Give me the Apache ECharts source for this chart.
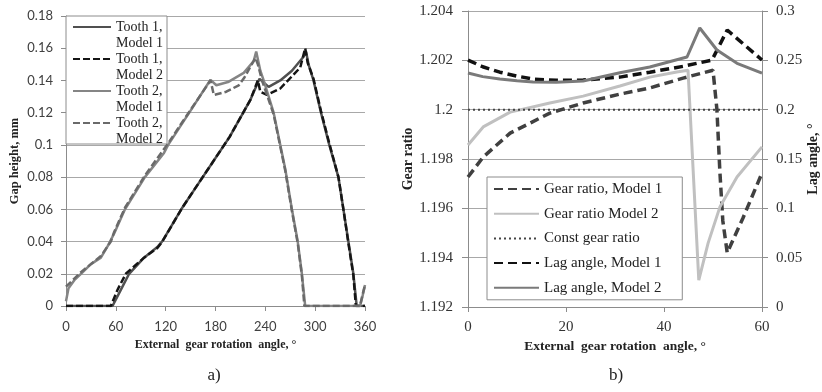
<!DOCTYPE html>
<html><head><meta charset="utf-8">
<script src="https://cdn.jsdelivr.net/npm/echarts@6/dist/echarts.min.js"></script>
<style>html,body{margin:0;padding:0;background:#fff}#c{width:822px;height:392px}</style>
</head><body><div id="c"></div>
<script>
// ---- Chart a) : gap height vs external gear rotation angle ----
const t1m1_x = [0, 56, 66, 76, 94, 110, 114, 117, 140, 162, 175, 197, 222, 233, 244, 258, 272, 286, 289, 292, 298, 307, 317, 328, 334, 340, 346, 350, 360];
const t1m1_y = [0, 0, 0.010, 0.020, 0.030, 0.0366, 0.039, 0.041, 0.061, 0.078, 0.088, 0.105, 0.128, 0.141, 0.136, 0.140, 0.146, 0.1547, 0.158, 0.150, 0.140, 0.120, 0.100, 0.080, 0.060, 0.040, 0.020, 0, 0];
const t1m2_x = [0, 54, 62, 72, 94, 110, 116, 140, 162, 175, 197, 222, 231, 234, 242, 258, 282, 288, 291, 298, 307, 317, 328, 334, 340, 346, 349, 360];
const t1m2_y = [0, 0, 0.010, 0.020, 0.030, 0.036, 0.040, 0.061, 0.078, 0.088, 0.105, 0.128, 0.140, 0.133, 0.131, 0.135, 0.148, 0.160, 0.151, 0.141, 0.121, 0.101, 0.080, 0.060, 0.039, 0.019, 0, 0];
const t2m1_x = [0, 3, 10, 18, 30, 42, 50, 53, 58, 71, 95, 118, 123, 149, 174, 181, 195, 214, 226, 229, 234, 238, 250, 258, 264, 272, 279, 284, 288, 354, 357, 360];
const t2m1_y = [0.003, 0.011, 0.016, 0.020, 0.026, 0.030, 0.037, 0.040, 0.045, 0.060, 0.080, 0.095, 0.100, 0.1205, 0.1404, 0.137, 0.139, 0.1447, 0.152, 0.158, 0.146, 0.140, 0.120, 0.100, 0.085, 0.060, 0.040, 0.020, 0, 0, 0.006, 0.013];
const t2m2_x = [0, 10, 18, 30, 42, 50, 54, 58, 71, 95, 123, 149, 174, 178, 193, 208, 215, 228, 231, 236, 250, 258, 264, 272, 279, 284, 287, 354, 357, 360];
const t2m2_y = [0.012, 0.017, 0.021, 0.026, 0.031, 0.037, 0.040, 0.046, 0.061, 0.081, 0.101, 0.121, 0.140, 0.131, 0.133, 0.137, 0.142, 0.154, 0.150, 0.140, 0.119, 0.099, 0.084, 0.059, 0.039, 0.019, 0, 0, 0.007, 0.013];
const namesA = ['Tooth 1, Model 1', 'Tooth 1, Model 2', 'Tooth 2, Model 1', 'Tooth 2, Model 2'];

// ---- Chart b) : gear ratio and lag angle ----
const gr1_x = [0, 3.1, 8.6, 16.7, 23.5, 31, 37.1, 43.9, 50, 50.8, 51.4, 52.0, 52.9, 56.1, 60];
const gr1_y = [1.19727, 1.19808, 1.19905, 1.19986, 1.20027, 1.20063, 1.20088, 1.20128, 1.2016, 1.2000, 1.1975, 1.1955, 1.1942, 1.1956, 1.19743];
const gr2_x = [0, 3.1, 8.6, 16.7, 23.5, 31, 37.1, 42.6, 44.9, 47.1, 49, 51.4, 54.9, 60];
const gr2_y = [1.19857, 1.1993, 1.1999, 1.20027, 1.20055, 1.20096, 1.20132, 1.20153, 1.2016, 1.19309, 1.19459, 1.19605, 1.19727, 1.19849];
const grc_x = [0, 60];
const grc_y = [1.2, 1.2];
const lag1_x = [0, 3, 6.5, 10, 13.3, 18, 23.5, 31, 37.1, 44, 49.8, 52.9, 60];
const lag1_y = [0.2503, 0.2435, 0.238, 0.234, 0.231, 0.2297, 0.230, 0.233, 0.238, 0.244, 0.2503, 0.2807, 0.2503];
const lag2_x = [0, 3, 6.5, 10, 13.3, 18, 23.5, 31, 37.1, 44.7, 47.3, 50.8, 54.9, 60];
const lag2_y = [0.2372, 0.2335, 0.231, 0.2293, 0.228, 0.2278, 0.229, 0.2375, 0.2432, 0.2534, 0.2828, 0.2605, 0.247, 0.237];
const namesB = ['Gear ratio, Model 1', 'Gear ratio Model 2', 'Const gear ratio', 'Lag angle, Model 1', 'Lag angle, Model 2'];

const xTitle = 'External  gear rotation  angle, °';

const zip = (xs, ys) => xs.map((x, i) => [x, ys[i]]);
const serifF = '"Liberation Serif", "Times New Roman", serif';
const sansF = 'Lato, "Liberation Sans", sans-serif';
const axisCol = '#8c8c8c';
const gridCol = '#a8a8a8';

function line(name, xi, yi, data, color, width, type) {
  return { name, type: 'line', xAxisIndex: xi, yAxisIndex: yi, data, symbol: 'none',
    lineStyle: { color, width, type }, itemStyle: { color }, emphasis: { disabled: true } };
}

const chart = echarts.init(document.getElementById('c'));
chart.setOption({
  animation: false,
  backgroundColor: '#fff',
  grid: [
    { left: 66, top: 16, width: 299, height: 290 },
    { left: 468, top: 11, width: 294, height: 296 }
  ],
  xAxis: [
    { gridIndex: 0, type: 'value', min: 0, max: 360, interval: 60,
      axisLine: { show: true, onZero: false, lineStyle: { color: axisCol } },
      axisTick: { show: true, length: 5, lineStyle: { color: axisCol } },
      splitLine: { show: false },
      axisLabel: { color: '#404040', fontFamily: sansF, fontSize: 13, margin: 14 },
      name: xTitle, nameLocation: 'middle', nameGap: 33,
      nameTextStyle: { fontFamily: serifF, fontWeight: 'bold', fontSize: 12, color: '#222' } },
    { gridIndex: 1, type: 'value', min: 0, max: 60, interval: 20,
      axisLine: { show: true, onZero: false, lineStyle: { color: axisCol } },
      axisTick: { show: true, length: 5, lineStyle: { color: axisCol } },
      splitLine: { show: false },
      axisLabel: { color: '#333', fontFamily: serifF, fontSize: 15, margin: 13 },
      name: xTitle, nameLocation: 'middle', nameGap: 30,
      nameTextStyle: { fontFamily: serifF, fontWeight: 'bold', fontSize: 13.5, color: '#222' } }
  ],
  yAxis: [
    { gridIndex: 0, type: 'value', min: 0, max: 0.18, interval: 0.02,
      axisLine: { show: true, lineStyle: { color: axisCol } },
      axisTick: { show: true, length: 5, lineStyle: { color: axisCol } },
      splitLine: { show: true, lineStyle: { color: gridCol, width: 1 } },
      axisLabel: { color: '#404040', fontFamily: sansF, fontSize: 13, margin: 13 },
      name: 'Gap height, mm', nameLocation: 'middle', nameGap: 45,
      nameTextStyle: { fontFamily: serifF, fontWeight: 'bold', fontSize: 12.5, color: '#222' } },
    { gridIndex: 1, type: 'value', min: 1.192, max: 1.204, interval: 0.002, position: 'left',
      axisLine: { show: true, lineStyle: { color: axisCol } },
      axisTick: { show: true, length: 6, lineStyle: { color: axisCol } },
      splitLine: { show: true, lineStyle: { color: gridCol, width: 1 } },
      axisLabel: { color: '#333', fontFamily: serifF, fontSize: 15, margin: 15 },
      name: 'Gear ratio', nameLocation: 'middle', nameGap: 52,
      nameTextStyle: { fontFamily: serifF, fontWeight: 'bold', fontSize: 14, color: '#222' } },
    { gridIndex: 1, type: 'value', min: 0, max: 0.3, interval: 0.05, position: 'right',
      axisLine: { show: true, lineStyle: { color: axisCol } },
      axisTick: { show: true, length: 6, lineStyle: { color: axisCol } },
      splitLine: { show: false },
      axisLabel: { color: '#333', fontFamily: serifF, fontSize: 15, margin: 14 },
      name: 'Lag angle, °', nameLocation: 'middle', nameGap: 34,
      nameTextStyle: { fontFamily: serifF, fontWeight: 'bold', fontSize: 14, color: '#222' } }
  ],
  legend: [
    { data: namesA, orient: 'vertical', left: 72, top: 3, padding: 0, itemGap: -16,
      itemWidth: 38, itemHeight: 0.01, z: 5,
      formatter: n => '\n' + n.replace(', ', ',\n'),
      textStyle: { fontFamily: serifF, fontSize: 14, lineHeight: 16, color: '#222' } },
    { data: namesB, orient: 'vertical', left: 487, top: 177, padding: [3, 20, 3, 6], itemGap: 6.7,
      itemWidth: 45, itemHeight: 0.01, z: 5,
      backgroundColor: '#fff', borderColor: axisCol, borderWidth: 1,
      textStyle: { fontFamily: serifF, fontSize: 15, lineHeight: 18, color: '#222' } }
  ],
  graphic: [
    { type: 'rect', z: 3, shape: { x: 66, y: 16, width: 101, height: 128 },
      style: { fill: '#fff', stroke: axisCol, lineWidth: 1 } },
    { type: 'text', x: 214, y: 376, style: { text: 'a)', font: '17px "Liberation Serif"', fill: '#222', align: 'center', verticalAlign: 'middle' } },
    { type: 'text', x: 616, y: 376, style: { text: 'b)', font: '17px "Liberation Serif"', fill: '#222', align: 'center', verticalAlign: 'middle' } }
  ],
  series: [
    line(namesA[0], 0, 0, zip(t1m1_x, t1m1_y), '#505050', 2.5, 'solid'),
    line(namesA[1], 0, 0, zip(t1m2_x, t1m2_y), '#151515', 2.5, [7, 3]),
    line(namesA[2], 0, 0, zip(t2m1_x, t2m1_y), '#858585', 2.5, 'solid'),
    line(namesA[3], 0, 0, zip(t2m2_x, t2m2_y), '#6a6a6a', 2.5, [7, 3]),
    line(namesB[0], 1, 1, zip(gr1_x, gr1_y), '#404040', 3.5, [9, 5]),
    line(namesB[1], 1, 1, zip(gr2_x, gr2_y), '#c0c0c0', 3, 'solid'),
    line(namesB[2], 1, 1, zip(grc_x, grc_y), '#444444', 2, [2, 3]),
    line(namesB[3], 1, 2, zip(lag1_x, lag1_y), '#111111', 3.5, [9, 5]),
    line(namesB[4], 1, 2, zip(lag2_x, lag2_y), '#7a7a7a', 3, 'solid')
  ]
});
</script></body></html>
